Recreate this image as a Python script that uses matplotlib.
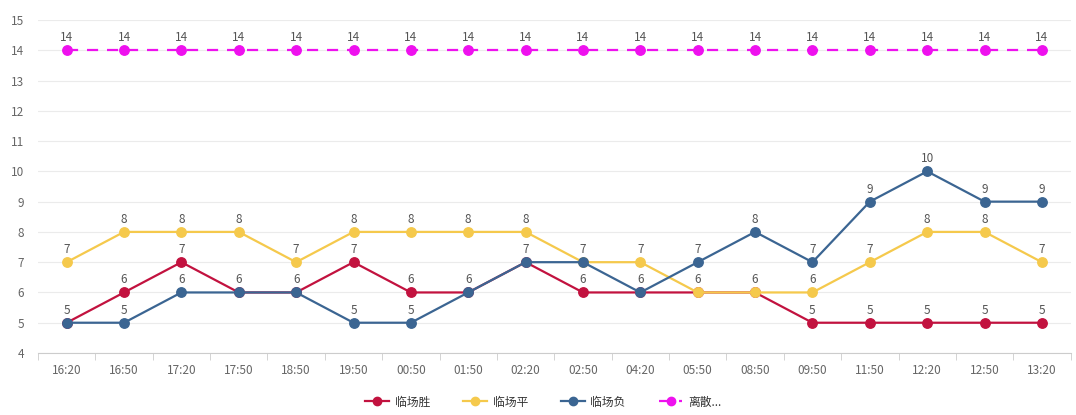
import matplotlib
matplotlib.use('Agg')
import matplotlib.pyplot as plt
import numpy as np

plt.rcParams['font.family'] = ['Noto Sans CJK SC', 'DejaVu Sans']

times = ['16:20', '16:50', '17:20', '17:50', '18:50', '19:50', '00:50', '01:50', '02:20',
         '02:50', '04:20', '05:50', '08:50', '09:50', '11:50', '12:20', '12:50', '13:20']
win = [5, 6, 7, 6, 6, 7, 6, 6, 7, 6, 6, 6, 6, 5, 5, 5, 5, 5]
draw = [7, 8, 8, 8, 7, 8, 8, 8, 8, 7, 7, 6, 6, 6, 7, 8, 8, 7]
lose = [5, 5, 6, 6, 6, 5, 5, 6, 7, 7, 6, 7, 8, 7, 9, 10, 9, 9]
spread = [14] * 18

series_names = ['临场胜', '临场平', '临场负', '离散...']
colors = ['#c2123f', '#f5c94c', '#3b6592', '#ee11ee']

fig = plt.figure(figsize=(10.76, 4.15), dpi=100)
ax = fig.add_axes([0.0353, 0.1494, 0.9597, 0.8024])

x = np.arange(len(times))
seen = set()
for vals, name, c in zip([win, draw, lose, spread], series_names, colors):
    ls = '--' if name.startswith('离散') else '-'
    ax.plot(x, vals, ls, color=c, lw=1.6, marker='o', ms=6.8, label=name,
            dashes=(5, 4) if ls == '--' else (None, None), zorder=3)
    for xi, v in zip(x, vals):
        # labels at the same spot sit on top of each other, draw once
        if (xi, v) in seen:
            continue
        seen.add((xi, v))
        ax.text(xi, v + 0.2, str(v), ha='center', va='bottom', fontsize=8.5,
                color='#555555', zorder=4)

ax.set_xlim(-0.5, len(times) - 0.5)
ax.set_ylim(4, 15)
ax.set_yticks(range(4, 16))
ax.set_xticks(x)
ax.set_xticklabels(times)
ax.set_xticks(np.arange(-0.5, len(times)), minor=True)
ax.tick_params(axis='x', which='major', length=0, pad=8, labelsize=8.5, labelcolor='#666666')
ax.tick_params(axis='x', which='minor', length=5, color='#cccccc', direction='out')
ax.tick_params(axis='y', length=0, pad=10, labelsize=8.5, labelcolor='#666666')
ax.grid(axis='y', color='#ebebeb', lw=0.8)
ax.set_axisbelow(True)
for s in ['top', 'right', 'left']:
    ax.spines[s].set_visible(False)
ax.spines['bottom'].set_color('#cccccc')

leg = fig.legend(loc='lower center', ncol=4, frameon=False, fontsize=8.5,
                 bbox_to_anchor=(0.505, -0.01), handlelength=2.0, columnspacing=2.8,
                 handletextpad=0.5)
for h in leg.legend_handles:
    h.set_markersize(6)
for t in leg.get_texts():
    t.set_color('#333333')

fig.savefig('out.png', dpi=100)
